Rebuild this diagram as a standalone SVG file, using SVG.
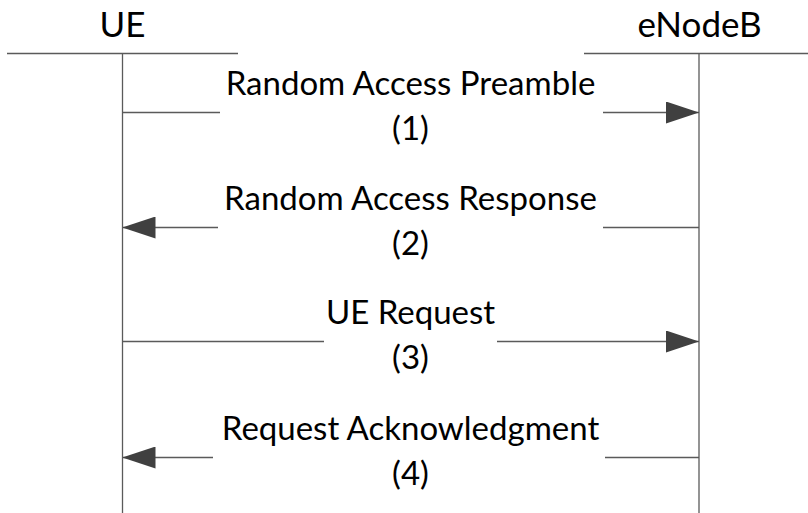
<svg xmlns="http://www.w3.org/2000/svg" width="808" height="513" viewBox="0 0 808 513">
  <style>
    .line { stroke: #5a5a5a; stroke-width: 1.3; fill: none; }
    .label { font-family: "Lato", "Open Sans", "Liberation Sans", sans-serif; font-size: 33px; fill: #000; text-anchor: middle; }
    .head { font-size: 35px; }
  </style>
  <defs>
    <marker id="head" viewBox="0 0 33 22" refX="33" refY="11" markerWidth="33" markerHeight="22" markerUnits="userSpaceOnUse" orient="auto">
      <polygon points="0,0 33,11 0,22" fill="#404040"/>
    </marker>
  </defs>
  <rect width="808" height="513" fill="#fff"/>

  <!-- participant: UE -->
  <g id="ue">
    <text class="label head" x="122.5" y="37">UE</text>
    <line class="line" x1="7" y1="53.5" x2="238" y2="53.5"/>
    <line class="line" x1="122.5" y1="53.5" x2="122.5" y2="513"/>
  </g>

  <!-- participant: eNodeB -->
  <g id="enodeb">
    <text class="label head" x="699.5" y="37">eNodeB</text>
    <line class="line" x1="584" y1="53.5" x2="808" y2="53.5"/>
    <line class="line" x1="699" y1="53.5" x2="699" y2="513"/>
  </g>

  <!-- messages -->
  <g id="connectors">
    <line class="line" x1="122.5" y1="112.5" x2="220" y2="112.5"/>
    <line class="line" x1="603" y1="112.5" x2="699" y2="112.5" marker-end="url(#head)"/>

    <line class="line" x1="699" y1="227.5" x2="603" y2="227.5"/>
    <line class="line" x1="218" y1="227.5" x2="122.5" y2="227.5" marker-end="url(#head)"/>

    <line class="line" x1="122.5" y1="341.5" x2="324" y2="341.5"/>
    <line class="line" x1="497" y1="341.5" x2="699" y2="341.5" marker-end="url(#head)"/>

    <line class="line" x1="699" y1="457.5" x2="605" y2="457.5"/>
    <line class="line" x1="213" y1="457.5" x2="122.5" y2="457.5" marker-end="url(#head)"/>
  </g>

  <g id="msg1">
    <text class="label" x="410.5" y="95">Random Access Preamble</text>
    <text class="label" x="410.5" y="140">(1)</text>
  </g>
  <g id="msg2">
    <text class="label" x="410.5" y="210">Random Access Response</text>
    <text class="label" x="410.5" y="255">(2)</text>
  </g>
  <g id="msg3">
    <text class="label" x="410.5" y="324">UE Request</text>
    <text class="label" x="410.5" y="369">(3)</text>
  </g>
  <g id="msg4">
    <text class="label" x="410.5" y="440">Request Acknowledgment</text>
    <text class="label" x="410.5" y="485">(4)</text>
  </g>
</svg>
